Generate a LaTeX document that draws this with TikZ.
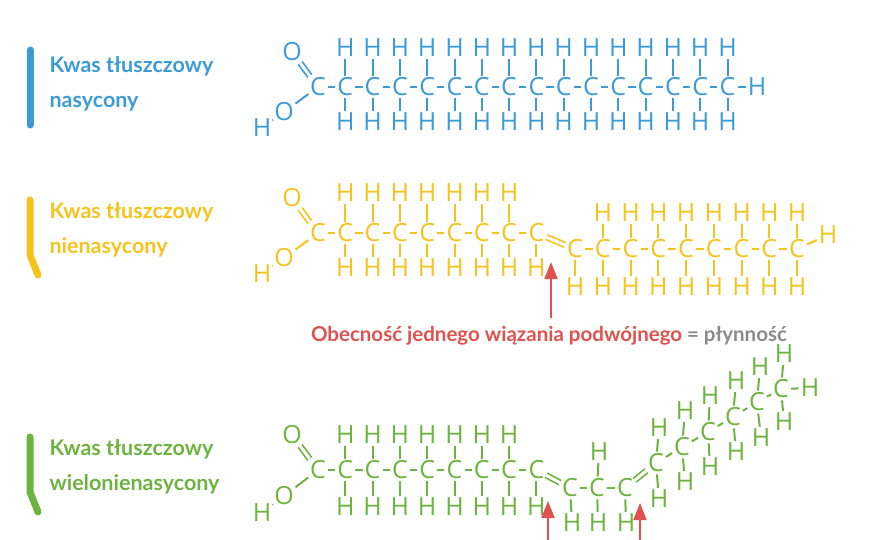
\documentclass[tikz,border=0pt]{standalone}
\usepackage{fontspec}
\setmainfont{Open Sans}
\newfontfamily\labelfont{Lato}
\usetikzlibrary{arrows.meta,positioning}
\definecolor{satblue}{HTML}{3C9AD7}
\definecolor{unsyellow}{HTML}{F6C31D}
\definecolor{polygreen}{HTML}{6DB33F}
\definecolor{notered}{HTML}{E0514F}
\definecolor{notegray}{HTML}{8A8A8A}
\newcommand{\chem}{\fontsize{25}{25}\selectfont}
\tikzset{
  atom/.style={inner sep=0pt,font=\chem},
  bond/.style={line width=2pt,shorten >=2pt,shorten <=2pt},
  dbond/.style={bond,double distance=3pt,line width=1.7pt},
  tag/.style={font=\labelfont\bfseries\fontsize{21.5}{35}\selectfont,align=left,anchor=north west},
  bar/.style={line width=7pt,line cap=round,line join=round},
  arr/.style={notered,line width=2pt,-{Triangle[width=13pt,length=17pt]}}
}
\begin{document}
\begin{tikzpicture}[x=1pt,y=-1pt]
\useasboundingbox (0,0) rectangle (880,540);
% nasycony
\begin{scope}[color=satblue]
  \draw[bar] (30,50) -- (30,125);
  \node[tag] (tag1) at (46,53) {Kwas tłuszczowy\\nasycony};
  \node[atom] (a0) at (318,87) {C};
  \node[atom] (ao1) at (292,52) {O};
  \node[atom] (ao2) at (284,112) {O};
  \node[atom] (ah) at (262,128) {H};
  \draw[dbond] (a0) -- (ao1);
  \draw[bond] (a0) -- (ao2);
  \draw[bond] (ao2) -- (ah);
  \foreach \i in {1,...,15} {
    \pgfmathsetmacro\x{318+27.3*\i}
    \pgfmathtruncatemacro\j{\i-1}
    \node[atom] (a\i) at (\x,87) {C};
    \node[atom] (at\i) at (\x,48) {H};
    \node[atom] (ab\i) at (\x,122) {H};
    \draw[bond] (a\j) -- (a\i);
    \draw[bond] (a\i) -- (at\i);
    \draw[bond] (a\i) -- (ab\i);
  }
  \node[atom] (aend) at (757,87) {H};
  \draw[bond] (a15) -- (aend);
\end{scope}
% nienasycony
\begin{scope}[color=unsyellow]
  \draw[bar] (30,200) -- (30,255) -- (38,275);
  \node[tag] (tag2) at (46,199) {Kwas tłuszczowy\\nienasycony};
  \node[atom] (b0) at (318,233) {C};
  \node[atom] (bo1) at (292,198) {O};
  \node[atom] (bo2) at (284,258) {O};
  \node[atom] (bh) at (262,274) {H};
  \draw[dbond] (b0) -- (bo1);
  \draw[bond] (b0) -- (bo2);
  \draw[bond] (bo2) -- (bh);
  \foreach \i in {1,...,8} {
    \pgfmathsetmacro\x{318+27.3*\i}
    \pgfmathtruncatemacro\j{\i-1}
    \node[atom] (b\i) at (\x,233) {C};
    \node[atom] (bb\i) at (\x,268) {H};
    \draw[bond] (b\j) -- (b\i);
    \draw[bond] (b\i) -- (bb\i);
  }
  \foreach \i in {1,...,7} {
    \node[atom] (bt\i) at (318+27.3*\i,193) {H};
    \draw[bond] (b\i) -- (bt\i);
  }
  \foreach \i in {9,...,17} {
    \pgfmathsetmacro\x{575+27.75*(\i-9)}
    \node[atom] (b\i) at (\x,249) {C};
    \node[atom] (bb\i) at (\x,287) {H};
    \draw[bond] (b\i) -- (bb\i);
  }
  \foreach \i in {10,...,17} {
    \pgfmathtruncatemacro\j{\i-1}
    \node[atom] (bt\i) at (575+27.75*\i-249.75,213) {H};
    \draw[bond] (b\i) -- (bt\i);
    \draw[bond] (b\j) -- (b\i);
  }
  \draw[dbond] (b8) -- (b9);
  \node[atom] (bend) at (828,235) {H};
  \draw[bond] (b17) -- (bend);
\end{scope}
\coordinate (n1) at (551,318);
\coordinate (n1tip) at (551,262);
\draw[arr] (n1) -- (n1tip);
\node[font=\labelfont\fontsize{20.5}{20.5}\selectfont,text=notered] (note) at (549,336)
  {\bfseries Obecność jednego wiązania podwójnego \textcolor{notegray}{= płynność}};
% wielonienasycony
\begin{scope}[color=polygreen]
  \draw[bar] (30,437) -- (30,492) -- (38,512);
  \node[tag] (tag3) at (46,436) {Kwas tłuszczowy\\wielonienasycony};
  \node[atom] (c0) at (318,470) {C};
  \node[atom] (co1) at (292,435) {O};
  \node[atom] (co2) at (284,496) {O};
  \node[atom] (ch) at (262,513) {H};
  \draw[dbond] (c0) -- (co1);
  \draw[bond] (c0) -- (co2);
  \draw[bond] (co2) -- (ch);
  \foreach \i in {1,...,8} {
    \pgfmathsetmacro\x{318+27.3*\i}
    \pgfmathtruncatemacro\j{\i-1}
    \node[atom] (c\i) at (\x,470) {C};
    \node[atom] (cb\i) at (\x,507) {H};
    \draw[bond] (c\j) -- (c\i);
    \draw[bond] (c\i) -- (cb\i);
  }
  \foreach \i in {1,...,7} {
    \node[atom] (ct\i) at (318+27.3*\i,435) {H};
    \draw[bond] (c\i) -- (ct\i);
  }
  \foreach \i/\x/\y in {9/570/488,10/597/488,11/625/488,12/656/463,13/682/447,
                        14/708/432,15/733/417,16/757/402,17/781/389}
    \node[atom] (c\i) at (\x,\y) {C};
  \foreach \i/\x/\y in {9/572/523,10/598/523,11/626/523,12/659/499,13/685/482,
                        14/710/467,15/736/452,16/761/438,17/784/422}
    {\node[atom] (cb\i) at (\x,\y) {H}; \draw[bond] (c\i) -- (cb\i);}
  \foreach \i/\x/\y in {10/599/452,12/659/428,13/685/411,14/710/396,15/736/381,
                        16/760/367,17/784/354}
    {\node[atom] (ct\i) at (\x,\y) {H}; \draw[bond] (c\i) -- (ct\i);}
  \draw[dbond] (c8) -- (c9);
  \draw[bond] (c9) -- (c10);
  \draw[bond] (c10) -- (c11);
  \draw[dbond] (c11) -- (c12);
  \foreach \i in {13,...,17} {
    \pgfmathtruncatemacro\j{\i-1}
    \draw[bond] (c\j) -- (c\i);
  }
  \node[atom] (cend) at (810,388) {H};
  \draw[bond] (c17) -- (cend);
\end{scope}
\coordinate (n2) at (548,545);
\coordinate (n2tip) at (548,501);
\coordinate (n3) at (640,545);
\coordinate (n3tip) at (640,503);
\draw[arr] (n2) -- (n2tip);
\draw[arr] (n3) -- (n3tip);
\end{tikzpicture}
\end{document}
